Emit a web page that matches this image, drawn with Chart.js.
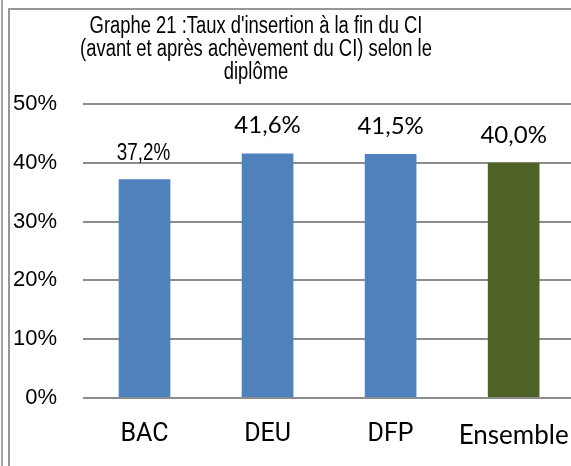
<!DOCTYPE html>
<html>
<head>
<meta charset="utf-8">
<script src="https://cdn.jsdelivr.net/npm/chart.js@4.4.1/dist/chart.umd.min.js"></script>
<style>
  html, body { margin: 0; padding: 0; width: 571px; height: 466px; overflow: hidden; background: #fff; }
  #wrap { position: relative; width: 571px; height: 466px; overflow: hidden; }
  #c { position: absolute; left: 0; top: 0; }
  .ln { position: absolute; background: #9a9a9a; }
</style>
</head>
<body>
<div id="wrap">
  <canvas id="c" width="583" height="466" style="width:583px;height:466px"></canvas>
  <div class="ln" style="left:1px;top:0;width:2px;height:466px;background:#a6a6a6"></div>
  <div class="ln" style="left:8px;top:8px;width:2px;height:458px;background:#969696"></div>
  <div class="ln" style="left:8px;top:8px;width:563px;height:2px;background:#969696"></div>
</div>
<script>
const titleLines = ["Graphe 21 :Taux d'insertion à la fin du CI", "(avant et après achèvement du CI) selon le", "diplôme"];
const categories = ["BAC", "DEU", "DFP", "Ensemble"];
const values = [37.2, 41.6, 41.5, 40.0];
const barColors = ["#4F81BD", "#4F81BD", "#4F81BD", "#4F6228"];
const yTicks = [0, 10, 20, 30, 40, 50];

const fmt = v => v.toFixed(1).replace('.', ',') + '%';

// draw text horizontally condensed (Arial Narrow look)
function narrowText(ctx, text, x, y, sx) {
  ctx.save();
  ctx.translate(x, y);
  ctx.scale(sx, 1);
  ctx.fillText(text, 0, 0);
  ctx.restore();
}

const titlePlugin = {
  id: 'customTitle',
  afterDraw(chart) {
    const ctx = chart.ctx;
    ctx.save();
    ctx.fillStyle = '#000';
    ctx.font = '23px "Liberation Sans"';
    ctx.textAlign = 'center';
    ctx.textBaseline = 'alphabetic';
    const ys = [33, 56, 79];
    titleLines.forEach((t, i) => narrowText(ctx, t, 256, ys[i], 0.80));
    ctx.restore();
  }
};

const labelPlugin = {
  id: 'barLabels',
  afterDatasetsDraw(chart) {
    const ctx = chart.ctx;
    const meta = chart.getDatasetMeta(0);
    ctx.save();
    ctx.fillStyle = '#000';
    ctx.textAlign = 'center';
    ctx.textBaseline = 'alphabetic';
    meta.data.forEach((bar, i) => {
      if (i === 0) {
        ctx.font = '23px "Liberation Sans"';
        narrowText(ctx, fmt(values[i]), bar.x - 1, bar.y - 19, 0.82);
      } else {
        ctx.font = '24px Lato';
        ctx.fillText(fmt(values[i]), bar.x, bar.y - 20);
      }
    });
    ctx.restore();
  }
};

new Chart(document.getElementById('c'), {
  type: 'bar',
  data: {
    labels: categories,
    datasets: [{
      data: values,
      backgroundColor: barColors,
      borderWidth: 0,
      barPercentage: 0.42,
      categoryPercentage: 1.0
    }]
  },
  options: {
    responsive: false,
    animation: false,
    devicePixelRatio: 1,
    layout: { padding: { top: 104, right: 3, bottom: 0, left: 0 } },
    plugins: { legend: { display: false }, title: { display: false }, tooltip: { enabled: false } },
    scales: {
      x: {
        grid: { display: false },
        border: { display: false },
        ticks: {
          color: '#000',
          padding: 14,
          font: ctx => ctx.index === 3 ? { family: 'Lato', size: 26 } : { family: 'Roboto', size: 25 }
        },
        afterFit(scale) { scale.height = 68; }
      },
      y: {
        min: 0, max: 50,
        afterBuildTicks(scale) { scale.ticks = yTicks.map(v => ({ value: v })); },
        grid: { color: '#8c8c8c', lineWidth: 2, drawTicks: false },
        border: { display: false },
        ticks: {
          color: '#000',
          padding: 26,
          font: { family: '"Liberation Sans"', size: 22 },
          callback: v => v + '%'
        },
        afterFit(scale) { scale.width = 83; }
      }
    }
  },
  plugins: [titlePlugin, labelPlugin]
});
</script>
</body>
</html>
